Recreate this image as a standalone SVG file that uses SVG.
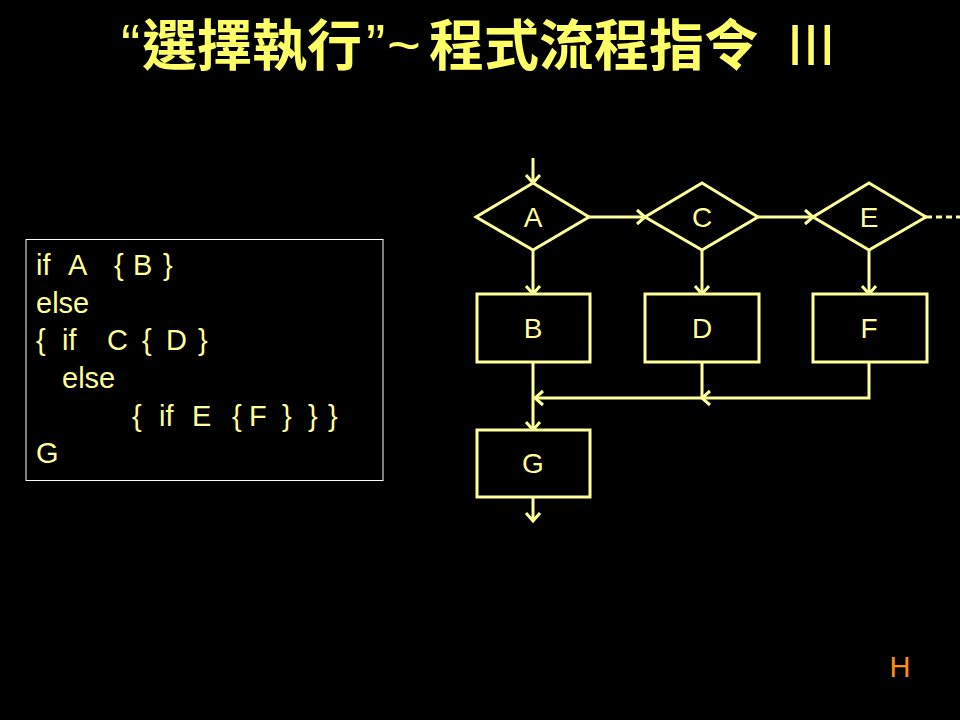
<svg xmlns="http://www.w3.org/2000/svg" width="960" height="720" viewBox="0 0 960 720">
<style>
.ln{fill:none;stroke:#FFFF99;stroke-width:3;stroke-linejoin:miter}
.nd{fill:#000;stroke:#FFFF99;stroke-width:3}
.lb{font-family:"Liberation Sans",Arial,sans-serif;font-size:28px;fill:#FFFF99;text-anchor:middle}
.code{font-family:"Liberation Sans",Arial,sans-serif;font-size:29px;fill:#FFFF99}
.tl{font-family:"Liberation Sans",Arial,sans-serif;font-size:58px;fill:#FFFF66}
.cjk{font-family:"Noto Sans CJK TC","Noto Sans CJK SC",sans-serif;font-size:55px;font-weight:bold}
</style>
<defs>
<marker id="ah" markerUnits="userSpaceOnUse" markerWidth="20" markerHeight="20" viewBox="-10 -10 20 20" refX="0" refY="0" orient="auto">
<path d="M-8,-7 L0,0 L-8,7" fill="none" stroke="#FFFF99" stroke-width="3"/>
</marker>
</defs>
<rect width="960" height="720" fill="#000"/>
<g id="title">
<text class="tl" y="65"><tspan x="121">“</tspan><tspan class="cjk" x="142">選擇執行</tspan><tspan x="366">”</tspan><tspan x="387">~</tspan><tspan class="cjk" x="429">程式流程指令</tspan><tspan x="787">III</tspan></text>
</g>
<g id="code">
<rect x="26" y="239.5" width="357" height="241" fill="none" stroke="#FFFFFF" stroke-width="1"/>
<text class="code" y="275"><tspan x="36">if</tspan><tspan x="68">A</tspan><tspan x="114">{</tspan><tspan x="133">B</tspan><tspan x="163">}</tspan></text>
<text class="code" x="36" y="313">else</text>
<text class="code" y="350"><tspan x="36">{</tspan><tspan x="62">if</tspan><tspan x="107">C</tspan><tspan x="142">{</tspan><tspan x="166">D</tspan><tspan x="198">}</tspan></text>
<text class="code" x="62" y="388">else</text>
<text class="code" y="426"><tspan x="132">{</tspan><tspan x="159">if</tspan><tspan x="192">E</tspan><tspan x="232">{</tspan><tspan x="249">F</tspan><tspan x="282">}</tspan><tspan x="308">}</tspan><tspan x="328">}</tspan></text>
<text class="code" x="36" y="463">G</text>
</g>
<g id="connectors">
<path class="ln" d="M533,158 V183" marker-end="url(#ah)"/>
<path class="ln" d="M589,217 H645" marker-end="url(#ah)"/>
<path class="ln" d="M758,217 H813" marker-end="url(#ah)"/>
<path class="ln" d="M926,217 H960" stroke-dasharray="6,4"/>
<path class="ln" d="M533,250 V294" marker-end="url(#ah)"/>
<path class="ln" d="M702,250 V294" marker-end="url(#ah)"/>
<path class="ln" d="M869,250 V294" marker-end="url(#ah)"/>
<path class="ln" d="M533,362 V430" marker-end="url(#ah)"/>
<path class="ln" d="M702,362 V398"/>
<path class="ln" d="M869,362 V398 H702" marker-end="url(#ah)"/>
<path class="ln" d="M702,398 H535" marker-end="url(#ah)"/>
<path class="ln" d="M533,497 V521" marker-end="url(#ah)"/>
</g>
<g id="nodeA"><polygon class="nd" points="533,183 589,217 533,250 476,217"/><text class="lb" x="533" y="227">A</text></g>
<g id="nodeC"><polygon class="nd" points="702,183 758,217 702,250 645,217"/><text class="lb" x="702" y="227">C</text></g>
<g id="nodeE"><polygon class="nd" points="869,183 926,217 869,250 813,217"/><text class="lb" x="869" y="227">E</text></g>
<g id="nodeB"><rect class="nd" x="477" y="294" width="113" height="68"/><text class="lb" x="533" y="338">B</text></g>
<g id="nodeD"><rect class="nd" x="645" y="294" width="114" height="68"/><text class="lb" x="702" y="338">D</text></g>
<g id="nodeF"><rect class="nd" x="813" y="294" width="114" height="68"/><text class="lb" x="869" y="338">F</text></g>
<g id="nodeG"><rect class="nd" x="477" y="430" width="113" height="67"/><text class="lb" x="533" y="473">G</text></g>
<text x="900" y="677" font-family="Liberation Sans, Arial, sans-serif" font-size="29" fill="#FF8C1A" text-anchor="middle">H</text>
</svg>
